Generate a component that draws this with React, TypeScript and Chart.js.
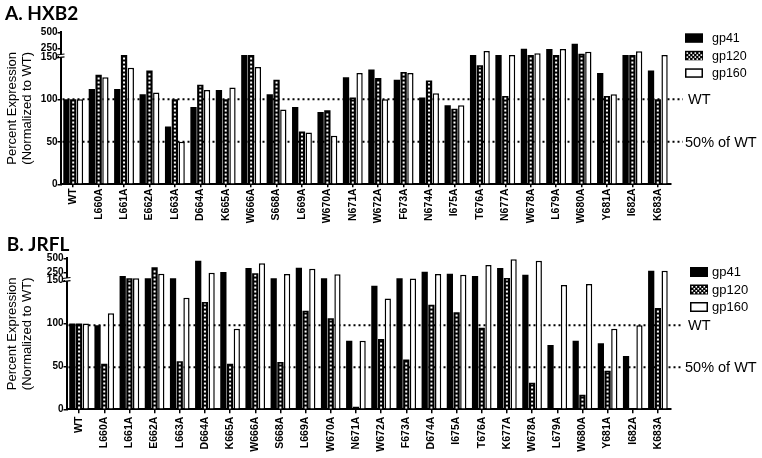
import React, { useEffect, useRef } from 'react';
import { Chart, registerables, LinearScale } from 'chart.js';

// ---------- data ----------
const categoriesA = ['WT', 'L660A', 'L661A', 'E662A', 'L663A', 'D664A', 'K665A', 'W666A', 'S668A', 'L669A', 'W670A', 'N671A', 'W672A', 'F673A', 'N674A', 'I675A', 'T676A', 'N677A', 'W678A', 'L679A', 'W680A', 'Y681A', 'I682A', 'K683A'];
const gp41A = [100, 112, 112, 106, 68, 91, 111, 151, 106, 91, 85, 126, 135, 123, 102, 93, 151, 151, 247, 242, 324, 131, 151, 134];
const gp120A = [100, 129, 151, 134, 100, 117, 100, 151, 123, 62, 87, 102, 125, 132, 122, 89, 140, 104, 151, 151, 170, 104, 151, 100];
const gp160A = [100, 126, 137, 108, 50, 111, 114, 138, 88, 61, 57, 131, 100, 131, 107, 93, 212, 151, 176, 242, 201, 106, 207, 151];

const categoriesB = ['WT', 'L660A', 'L661A', 'E662A', 'L663A', 'D664A', 'K665A', 'W666A', 'S668A', 'L669A', 'W670A', 'N671A', 'W672A', 'F673A', 'D674A', 'I675A', 'T676A', 'K677A', 'W678A', 'L679A', 'W680A', 'Y681A', 'I682A', 'K683A'];
const gp41B = [100, 98, 193, 153, 153, 459, 263, 332, 153, 338, 153, 80, 144, 153, 268, 233, 193, 332, 216, 75, 80, 77, 62, 285];
const gp120B = [100, 53, 153, 344, 56, 125, 53, 240, 55, 115, 106, 3, 82, 58, 122, 113, 95, 159, 31, 0, 17, 45, 0, 118];
const gp160B = [100, 112, 153, 233, 130, 251, 94, 414, 228, 320, 223, 80, 129, 151, 228, 216, 384, 483, 459, 145, 146, 94, 98, 285];

const yTicks = [0, 50, 100, 150, 250, 500];
const refLinesA = [100, 50];
const refLinesB = [98, 49];
const refLabels = ['WT', '50% of WT'];
const seriesNames = ['gp41', 'gp120', 'gp160'];
const yTitle = ['Percent Expression', '(Normalized to WT)'];

const FONT = "'Liberation Sans', Arial, sans-serif";

// ---------- broken linear scale ----------
class BrokenScale extends LinearScale {
  static id = 'broken';
  getPixelForValue(value: any) {
    const b = (this.options as any).brk;
    const h = this.bottom - this.top;
    if (value == null || isNaN(value)) return NaN;
    const lowMax = b.lowMax, highMax = b.highMax;
    if (value <= lowMax) return this.bottom - (value / lowMax) * b.lowFrac * h;
    const upFrac = 1 - b.lowFrac - b.gapFrac;
    return this.bottom - (b.lowFrac + b.gapFrac) * h - ((value - lowMax) / (highMax - lowMax)) * upFrac * h;
  }
  getValueForPixel(pixel: number) {
    const b = (this.options as any).brk;
    const h = this.bottom - this.top;
    const d = (this.bottom - pixel) / h;
    if (d <= b.lowFrac) return (d / b.lowFrac) * b.lowMax;
    const upFrac = 1 - b.lowFrac - b.gapFrac;
    return b.lowMax + ((d - b.lowFrac - b.gapFrac) / upFrac) * (b.highMax - b.lowMax);
  }
}

Chart.register(...registerables, BrokenScale as any);

type Panel = {
  labels: string[]; gp41: number[]; gp120: number[]; gp160: number[]; refLines: number[];
  title: string; titleX: number; titleY: number; canvasH: number;
  left: number; right: number; top: number; bottom: number;
  lowFrac: number; gapFrac: number; xTickLen: number; xPad: number;
  lineEnd: number; wtX: number; halfX: number;
  legendX: number; legendY: number; legendStep: number; legendBoxH: number; legendTextX: number; legendFont: number;
};

const panelA: Panel = {
  labels: categoriesA, gp41: gp41A, gp120: gp120A, gp160: gp160A, refLines: refLinesA,
  title: 'A. HXB2', titleX: 5, titleY: 20, canvasH: 230,
  left: 60.5, right: 670.5, top: 32.3, bottom: 184.3,
  lowFrac: 0.8388, gapFrac: 0.0118, xTickLen: 3, xPad: 1,
  lineEnd: 683, wtX: 688, halfX: 685,
  legendX: 685, legendY: 33.3, legendStep: 17.5, legendBoxH: 9.5, legendTextX: 712, legendFont: 12.5,
};

const panelB: Panel = {
  labels: categoriesB, gp41: gp41B, gp120: gp120B, gp160: gp160B, refLines: refLinesB,
  title: 'B. JRFL', titleX: 6.7, titleY: 20.7, canvasH: 228,
  left: 66.5, right: 670.5, top: 28.3, bottom: 179.3,
  lowFrac: 0.8523, gapFrac: 0.0139, xTickLen: 4, xPad: 3.4,
  lineEnd: 683, wtX: 688, halfX: 685,
  legendX: 690, legendY: 37, legendStep: 17.5, legendBoxH: 10, legendTextX: 712, legendFont: 13,
};

function drawCheckerBox(ctx: CanvasRenderingContext2D, x: number, y: number, w: number, h: number) {
  ctx.fillStyle = '#000';
  ctx.fillRect(x, y, w, h);
  ctx.fillStyle = '#fff';
  let row = 0;
  for (let yy = y + 1.5; yy < y + h - 1.5; yy += 2) {
    for (let xx = x + 1.5 + (row % 2) * 2; xx < x + w - 1.5; xx += 4) {
      ctx.fillRect(xx, yy, 1.6, 1.6);
    }
    row++;
  }
}

function buildChart(canvas: HTMLCanvasElement, p: Panel) {
  const decor = {
    id: 'decor',
    beforeDatasetsDraw(chart: any) {
      const ctx = chart.ctx as CanvasRenderingContext2D;
      const ys = chart.scales.y;
      ctx.save();
      ctx.strokeStyle = '#000';
      ctx.lineWidth = 2;
      ctx.setLineDash([2, 3]);
      p.refLines.forEach((v) => {
        const y = ys.getPixelForValue(v);
        ctx.beginPath();
        ctx.moveTo(chart.chartArea.left + 2, y);
        ctx.lineTo(p.lineEnd, y);
        ctx.stroke();
      });
      ctx.restore();
    },
    afterDatasetsDraw(chart: any) {
      const ctx = chart.ctx as CanvasRenderingContext2D;
      const meta = chart.getDatasetMeta(1);
      ctx.save();
      ctx.strokeStyle = '#fff';
      ctx.lineWidth = 2;
      ctx.setLineDash([2, 2]);
      meta.data.forEach((el: any) => {
        const { x, y, base } = el.getProps(['x', 'y', 'base'], true);
        if (base - y < 3) return;
        ctx.beginPath();
        ctx.moveTo(x, base);
        ctx.lineTo(x, y + 1.5);
        ctx.stroke();
      });
      ctx.restore();
    },
    afterDraw(chart: any) {
      const ctx = chart.ctx as CanvasRenderingContext2D;
      const ys = chart.scales.y;
      const area = chart.chartArea;
      ctx.save();
      // panel title
      ctx.fillStyle = '#000';
      ctx.font = "bold 19px Lato, 'Open Sans', sans-serif";
      ctx.textBaseline = 'alphabetic';
      ctx.textAlign = 'left';
      ctx.fillText(p.title, p.titleX, p.titleY);
      // reference labels
      ctx.font = `14.5px ${FONT}`;
      ctx.textBaseline = 'middle';
      p.refLines.forEach((v, i) => {
        const y = ys.getPixelForValue(v);
        ctx.fillText(refLabels[i], i === 0 ? p.wtX : p.halfX, y + 1);
      });
      // legend
      ctx.font = `${p.legendFont}px ${FONT}`;
      seriesNames.forEach((name, i) => {
        const by = p.legendY + i * p.legendStep;
        if (i === 0) {
          ctx.fillStyle = '#000';
          ctx.fillRect(p.legendX, by, 18, p.legendBoxH);
        } else if (i === 1) {
          drawCheckerBox(ctx, p.legendX, by, 18, p.legendBoxH);
        } else {
          ctx.fillStyle = '#fff';
          ctx.fillRect(p.legendX, by, 18, p.legendBoxH);
          ctx.strokeStyle = '#000';
          ctx.lineWidth = 1.5;
          ctx.strokeRect(p.legendX + 0.75, by + 0.75, 16.5, p.legendBoxH - 1.5);
        }
        ctx.fillStyle = '#000';
        ctx.fillText(name, p.legendTextX, by + p.legendBoxH / 2 + 0.5);
      });
      // axis break marks
      const x0 = area.left;
      const yLow = ys.getPixelForValue(150);
      const yUp = yLow - p.gapFrac * (area.bottom - area.top);
      ctx.fillStyle = '#fff';
      ctx.fillRect(x0 - 1.5, yUp - 0.5, 3, yLow - yUp + 1);
      ctx.strokeStyle = '#000';
      ctx.lineWidth = 1.2;
      ctx.beginPath();
      ctx.moveTo(x0 - 4, yUp);
      ctx.lineTo(x0 + 4, yUp - 1);
      ctx.moveTo(x0 - 4, yLow + 1);
      ctx.lineTo(x0 + 4, yLow);
      ctx.stroke();
      ctx.restore();
    },
  };

  return new Chart(canvas, {
    type: 'bar',
    data: {
      labels: p.labels,
      datasets: [
        { label: seriesNames[0], data: p.gp41, backgroundColor: '#000', borderWidth: 0 },
        { label: seriesNames[1], data: p.gp120, backgroundColor: '#000', borderWidth: 0 },
        { label: seriesNames[2], data: p.gp160, backgroundColor: '#fff', borderColor: '#000', borderWidth: 1.5 },
      ],
    },
    options: {
      responsive: false,
      animation: false,
      devicePixelRatio: 1,
      layout: { padding: { left: 0, right: 762 - p.right, top: p.top, bottom: 0 } },
      datasets: { bar: { categoryPercentage: 0.8, barPercentage: 0.93 } } as any,
      plugins: { legend: { display: false }, tooltip: { enabled: false }, title: { display: false } },
      scales: {
        x: {
          type: 'category',
          offset: true,
          grid: { display: true, drawOnChartArea: false, offset: false, tickLength: p.xTickLen, color: '#000', lineWidth: 1.5 },
          border: { display: true, color: '#000', width: 2 },
          ticks: {
            autoSkip: false, minRotation: 90, maxRotation: 90, padding: p.xPad, color: '#000',
            font: { family: FONT, size: 10.5, weight: 'bold' },
          },
          afterFit: (s: any) => { s.height = p.canvasH - p.bottom; },
        },
        y: {
          type: 'broken' as any,
          min: 0,
          max: 500,
          brk: { lowMax: 150, highMax: 500, lowFrac: p.lowFrac, gapFrac: p.gapFrac },
          afterBuildTicks: (s: any) => { s.ticks = yTicks.map((v) => ({ value: v })); },
          grid: { display: true, drawOnChartArea: false, tickLength: 3, color: '#000', lineWidth: 1.5 },
          border: { display: true, color: '#000', width: 2 },
          ticks: { autoSkip: false, padding: 0, color: '#000', font: { family: FONT, size: 10, weight: 'bold' } },
          title: {
            display: true, text: yTitle, color: '#000',
            font: { family: FONT, size: 13, lineHeight: 1.15 },
            padding: { top: 4.5, bottom: 0 },
          },
          afterFit: (s: any) => { s.width = p.left; },
        } as any,
      },
    },
    plugins: [decor],
  } as any);
}

export default function App() {
  const refA = useRef<HTMLCanvasElement>(null);
  const refB = useRef<HTMLCanvasElement>(null);
  useEffect(() => {
    document.body.style.margin = '0';
    const a = buildChart(refA.current!, panelA);
    const b = buildChart(refB.current!, panelB);
    return () => { a.destroy(); b.destroy(); };
  }, []);
  return (
    <div style={{ width: 762, height: 458, background: '#fff' }}>
      <canvas ref={refA} width={762} height={230} style={{ display: 'block' }} />
      <canvas ref={refB} width={762} height={228} style={{ display: 'block' }} />
    </div>
  );
}
